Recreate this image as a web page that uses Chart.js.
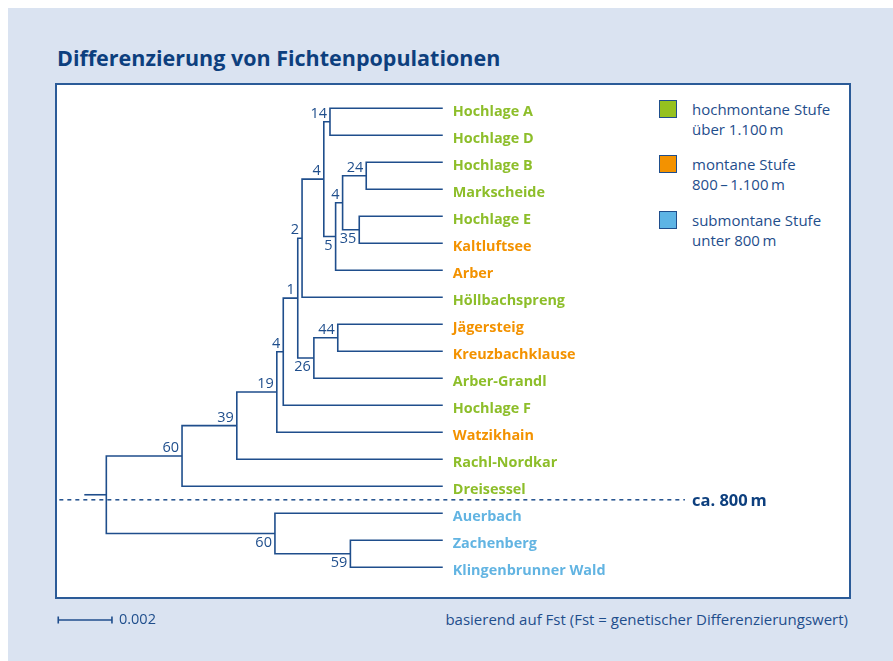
<!DOCTYPE html>
<html>
<head>
<meta charset="utf-8">
<script src="https://cdn.jsdelivr.net/npm/chart.js@4/dist/chart.umd.min.js"></script>
<style>
  body { margin: 0; background: #fff; font-family: "Open Sans", sans-serif; }
  #page { position: absolute; left: 8px; top: 8px; width: 885px; height: 653px; background: #dae3f1; }
  #title { position: absolute; left: 57px; top: 44px; margin: 0; font-size: 21.5px; font-weight: 700; color: #0d3f7e; line-height: 28px; white-space: nowrap; }
  #panel { position: absolute; left: 55px; top: 83px; width: 796px; height: 516px; box-sizing: border-box; background: #fff; border: 2px solid #2b5b98; }
  .leg { position: absolute; left: 659px; width: 190px; }
  .leg .sw { position: absolute; left: 0; top: 0; width: 18px; height: 18px; box-sizing: border-box; border: 1.5px solid #1f4e8c; }
  .leg .tx { position: absolute; left: 33px; top: 0px; font-size: 15px; line-height: 19.5px; color: #1f4e8c; white-space: nowrap; }
  #note { position: absolute; right: 45px; top: 609px; font-size: 15px; line-height: 20px; color: #1f4e8c; white-space: nowrap; }
  canvas { position: absolute; left: 0; top: 0; }
</style>
</head>
<body>
<div id="page"></div>
<h1 id="title">Differenzierung von Fichtenpopulationen</h1>
<div id="panel"></div>
<div class="leg" style="top:100px"><div class="sw" style="background:#95c11f"></div><div class="tx">hochmontane Stufe<br>über 1.100&#8201;m</div></div>
<div class="leg" style="top:155px"><div class="sw" style="background:#f39200"></div><div class="tx">montane Stufe<br>800&#8201;–&#8201;1.100&#8201;m</div></div>
<div class="leg" style="top:211px"><div class="sw" style="background:#5db4e5"></div><div class="tx">submontane Stufe<br>unter 800&#8201;m</div></div>
<div id="note">basierend auf Fst (Fst = genetischer Differenzierungswert)</div>
<canvas id="myChart" width="893" height="661"></canvas>
<script>
// leaves, top to bottom
var leafNames = ['Hochlage A', 'Hochlage D', 'Hochlage B', 'Markscheide', 'Hochlage E', 'Kaltluftsee', 'Arber',
    'Höllbachspreng', 'Jägersteig', 'Kreuzbachklause', 'Arber-Grandl', 'Hochlage F', 'Watzikhain',
    'Rachl-Nordkar', 'Dreisessel', 'Auerbach', 'Zachenberg', 'Klingenbrunner Wald'];
// h = hochmontan, m = montan, s = submontan
var leafZone = ['h', 'h', 'h', 'h', 'h', 'm', 'm', 'h', 'm', 'm', 'h', 'h', 'm', 'h', 'h', 's', 's', 's'];
var leafDist = 0.01335;

// inner nodes: ids 18.. ; children refer to leaf index (0-17) or node id
var nodeLeft    = [0, 2, 4, 19, 21, 18, 23, 8, 25, 24, 27, 28, 29, 30, 16, 15, 31];
var nodeRight   = [1, 3, 5, 20, 6, 22, 7, 9, 10, 26, 11, 12, 13, 14, 17, 32, 33];
var nodeDist    = [0.00915, 0.01050, 0.01024, 0.00962, 0.00936, 0.00892, 0.00811, 0.00944, 0.00855,
    0.00795, 0.00741, 0.00717, 0.00568, 0.00364, 0.00991, 0.00710, 0.00082];
var nodeSupport = [14, 24, 35, 4, 5, 4, 2, 44, 26, 1, 4, 19, 39, 60, 59, 60, null];

var scaleBarLength = 0.002;
var zoneLine = 14.5;   // between Dreisessel and Auerbach
var zoneLabel = 'ca. 800\u2009m';

var zoneColors = { h: '#8dbe2a', m: '#f39200', s: '#62b4e2' };
var labelBelow = [20, 22, 26, 32, 33];
var lineColor = '#1f4e8c';

var nLeaf = leafNames.length;
var posX = [], posY = [];
for (var i = 0; i < nLeaf; i++) { posX[i] = leafDist; posY[i] = i; }
for (var j = 0; j < nodeLeft.length; j++) {
    var id = nLeaf + j;
    posX[id] = nodeDist[j];
    posY[id] = (posY[nodeLeft[j]] + posY[nodeRight[j]]) / 2;
}

function seg(points, extra) {
    var ds = {
        data: points,
        showLine: true,
        borderColor: lineColor,
        borderWidth: 1.6,
        pointRadius: 0,
        fill: false,
        tension: 0
    };
    for (var k in extra) ds[k] = extra[k];
    return ds;
}

var datasets = [];
for (var j = 0; j < nodeLeft.length; j++) {
    var id = nLeaf + j, a = nodeLeft[j], b = nodeRight[j];
    datasets.push(seg([
        { x: posX[a], y: posY[a] },
        { x: posX[id], y: posY[a] },
        { x: posX[id], y: posY[b] },
        { x: posX[b], y: posY[b] }
    ]));
}
var root = nLeaf + nodeLeft.length - 1;
datasets.push(seg([{ x: 0, y: posY[root] }, { x: posX[root], y: posY[root] }]));

// dashed 800 m line
datasets.push(seg([{ x: -0.00093, y: zoneLine }, { x: 0.02237, y: zoneLine }], { borderDash: [4, 4], borderWidth: 1.5 }));

// scale bar
var barX = -0.00097, barY = 18.95;
datasets.push(seg([{ x: barX, y: barY }, { x: barX + scaleBarLength, y: barY }], { borderWidth: 1.4 }));
datasets.push(seg([{ x: barX, y: barY - 0.13 }, { x: barX, y: barY + 0.13 }], { borderWidth: 1.6 }));
datasets.push(seg([{ x: barX + scaleBarLength, y: barY - 0.13 }, { x: barX + scaleBarLength, y: barY + 0.13 }], { borderWidth: 1.6 }));

var treeLabels = {
    id: 'treeLabels',
    afterDatasetsDraw: function (chart) {
        var c = chart.ctx, xs = chart.scales.x, ys = chart.scales.y;
        c.save();
        c.font = '700 14.4px "Open Sans"';
        c.textAlign = 'left';
        c.textBaseline = 'alphabetic';
        for (var i = 0; i < nLeaf; i++) {
            c.fillStyle = zoneColors[leafZone[i]];
            c.fillText(leafNames[i], xs.getPixelForValue(leafDist) + 10, ys.getPixelForValue(i) + 7.3);
        }
        c.font = '500 14.5px "Open Sans"';
        c.fillStyle = lineColor;
        c.textAlign = 'right';
        for (var j = 0; j < nodeSupport.length; j++) {
            if (nodeSupport[j] == null) continue;
            var id = nLeaf + j;
            var px = xs.getPixelForValue(posX[id]) - 3;
            var py = ys.getPixelForValue(posY[id]);
            if (labelBelow.indexOf(id) >= 0) {
                c.textBaseline = 'top';
                c.fillText(String(nodeSupport[j]), px, py + 2);
            } else {
                c.textBaseline = 'alphabetic';
                c.fillText(String(nodeSupport[j]), px, py - 4);
            }
        }
        c.textAlign = 'left';
        c.textBaseline = 'middle';
        c.fillStyle = '#0d3f7e';
        c.font = '700 16.5px "Open Sans"';
        c.fillText(zoneLabel, xs.getPixelForValue(0.02237) + 7, ys.getPixelForValue(zoneLine) + 1);
        c.font = '14.5px "Open Sans"';
        c.fillStyle = lineColor;
        c.fillText(String(scaleBarLength), xs.getPixelForValue(barX + scaleBarLength) + 7, ys.getPixelForValue(barY));
        c.restore();
    }
};

var ctx = document.getElementById('myChart').getContext('2d');
var myChart = new Chart(ctx, {
    type: 'scatter',
    data: { datasets: datasets },
    options: {
        responsive: false,
        animation: false,
        devicePixelRatio: 1,
        layout: { padding: 0 },
        scales: {
            x: { type: 'linear', display: false, min: -0.0031397, max: 0.030119 },
            y: { type: 'linear', display: false, reverse: true, min: -4.0111, max: 20.4704 }
        },
        plugins: { legend: { display: false }, tooltip: { enabled: false } }
    },
    plugins: [treeLabels]
});
</script>
</body>
</html>
